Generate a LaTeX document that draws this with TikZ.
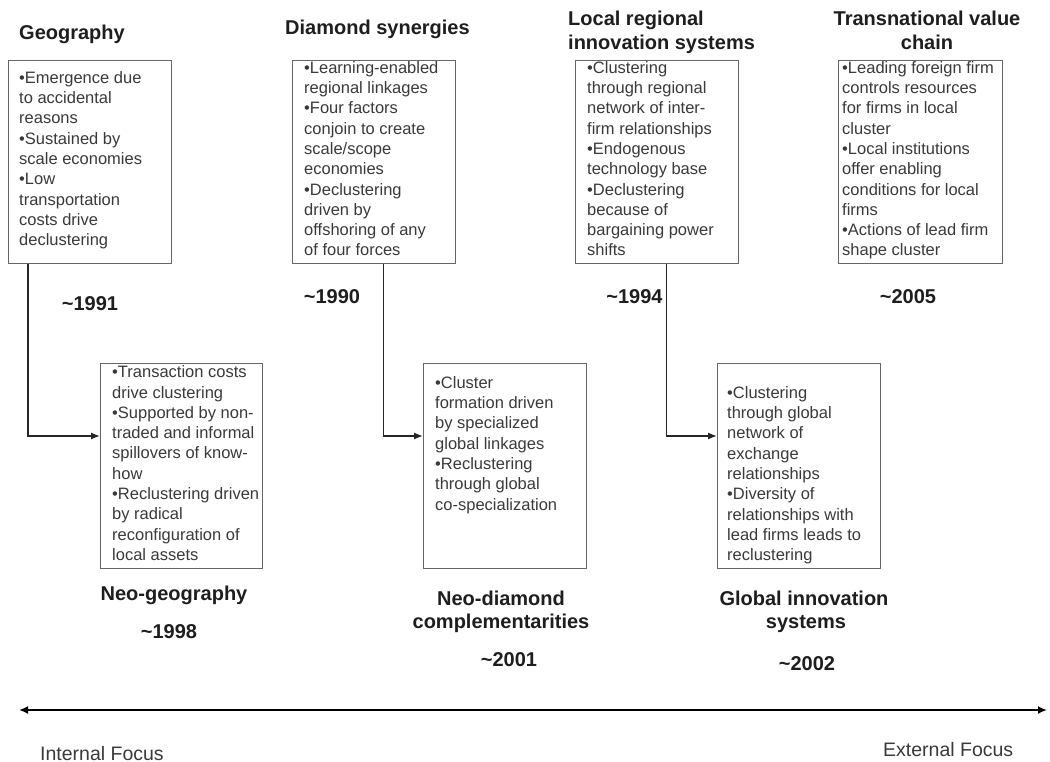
\documentclass[tikz,border=0pt]{standalone}
\usepackage{fontspec}
\setmainfont{Liberation Sans}
\usetikzlibrary{arrows.meta}
\definecolor{boxgray}{HTML}{666666}
\definecolor{txtgray}{HTML}{3A3A3A}
\definecolor{headblk}{HTML}{1E1E1E}
\newcommand{\bodyfont}{\fontsize{16.5}{20.3}\selectfont}
\newcommand{\headfont}{\fontsize{20}{24}\selectfont\bfseries}
\newcommand{\focusfont}{\fontsize{19.5}{24}\selectfont}
\tikzset{
  card/.style={draw=boxgray, line width=1.4pt, anchor=north west, inner sep=0pt, fill=none},
  bodytxt/.style={anchor=north west, inner sep=0pt, align=left, font=\bodyfont, text=txtgray},
  headtxt/.style={inner sep=0pt, font=\headfont, text=headblk},
  yeartxt/.style={inner sep=0pt, font=\headfont, text=headblk, anchor=base},
  conn/.style={draw=black!85, line width=1.3pt, -{Latex[length=9pt,width=7pt]}},
  axis/.style={draw=black, line width=2pt, {Latex[length=9pt,width=8pt]}-{Latex[length=9pt,width=8pt]}},
  focustxt/.style={inner sep=0pt, font=\focusfont, text=txtgray, anchor=base west}
}
\begin{document}
\begin{tikzpicture}[x=1pt,y=-1pt]
\useasboundingbox (0,0) rectangle (1050,762);
\fill[white] (0,0) rectangle (1050,762);

% boxes
\node[card, minimum width=163pt, minimum height=203pt] (b1) at (8,60) {};
\node[card, minimum width=163pt, minimum height=203pt] (b2) at (292,60) {};
\node[card, minimum width=163pt, minimum height=203pt] (b3) at (575,60) {};
\node[card, minimum width=164pt, minimum height=203pt] (b4) at (838,60) {};
\node[card, minimum width=162pt, minimum height=205pt] (b5) at (100,363) {};
\node[card, minimum width=163pt, minimum height=205pt] (b6) at (423,363) {};
\node[card, minimum width=163pt, minimum height=205pt] (b7) at (717,363) {};

% box texts (top = first baseline - 14.21)
\node[bodytxt] (t1) at (19,68.8) {\strut•Emergence due\\to accidental\\reasons\\•Sustained by\\scale economies\\•Low\\transportation\\costs drive\\declustering};
\node[bodytxt] (t2) at (304,58.8) {\strut•Learning-enabled\\regional linkages\\•Four factors\\conjoin to create\\scale/scope\\economies\\•Declustering\\driven by\\offshoring of any\\of four forces};
\node[bodytxt] (t3) at (587,58.8) {\strut•Clustering\\through regional\\network of inter-\\firm relationships\\•Endogenous\\technology base\\•Declustering\\because of\\bargaining power\\shifts};
\node[bodytxt] (t4) at (842,58.8) {\strut•Leading foreign firm\\controls resources\\for firms in local\\cluster\\•Local institutions\\offer enabling\\conditions for local\\firms\\•Actions of lead firm\\shape cluster};
\node[bodytxt] (t5) at (112,363.3) {\strut•Transaction costs\\drive clustering\\•Supported by non-\\traded and informal\\spillovers of know-\\how\\•Reclustering driven\\by radical\\reconfiguration of\\local assets};
\node[bodytxt] (t6) at (435,373.8) {\strut•Cluster\\formation driven\\by specialized\\global linkages\\•Reclustering\\through global\\co-specialization};
\node[bodytxt] (t7) at (727,383.8) {\strut•Clustering\\through global\\network of\\exchange\\relationships\\•Diversity of\\relationships with\\lead firms leads to\\reclustering};

% titles
\node[headtxt, anchor=base west] (h1) at (19,40) {Geography};
\node[headtxt, anchor=base west] (h2) at (285,34.5) {Diamond synergies};
\node[headtxt, anchor=base west] (h3a) at (568,26) {Local regional};
\node[headtxt, anchor=base west] (h3b) at (568,50) {innovation systems};
\node[headtxt, anchor=base] (h4a) at (927,26) {Transnational value};
\node[headtxt, anchor=base] (h4b) at (927,50) {chain};
\node[headtxt, anchor=base] (h5) at (174,600) {Neo-geography};
\node[headtxt, anchor=base] (h6a) at (501,605) {Neo-diamond};
\node[headtxt, anchor=base] (h6b) at (501,628.5) {complementarities};
\node[headtxt, anchor=base] (h7a) at (804,605) {Global innovation};
\node[headtxt, anchor=base] (h7b) at (806,628.5) {systems};

% years
\node[yeartxt] (y1) at (90,310) {\textasciitilde1991};
\node[yeartxt] (y2) at (332,304) {\textasciitilde1990};
\node[yeartxt] (y3) at (634.5,303.5) {\textasciitilde1994};
\node[yeartxt] (y4) at (908,303.5) {\textasciitilde2005};
\node[yeartxt] (y5) at (169,638) {\textasciitilde1998};
\node[yeartxt] (y6) at (509,666.5) {\textasciitilde2001};
\node[yeartxt] (y7) at (807,670) {\textasciitilde2002};

% connectors
\coordinate (k1) at (28,436);
\coordinate (k2) at (383.5,436);
\coordinate (k3) at (666.5,436);
\draw[conn] (k1 |- b1.south) -- (k1) -- (k1 -| b5.west);
\draw[conn] (k2 |- b2.south) -- (k2) -- (k2 -| b6.west);
\draw[conn] (k3 |- b3.south) -- (k3) -- (k3 -| b7.west);

% focus axis
\coordinate (axL) at (19,710);
\coordinate (axR) at (1047,710);
\draw[axis] (axL) -- (axR);
\node[focustxt] (fi) at (40,760) {Internal Focus};
\node[focustxt] (fe) at (883,756.5) {External Focus};
\end{tikzpicture}
\end{document}
